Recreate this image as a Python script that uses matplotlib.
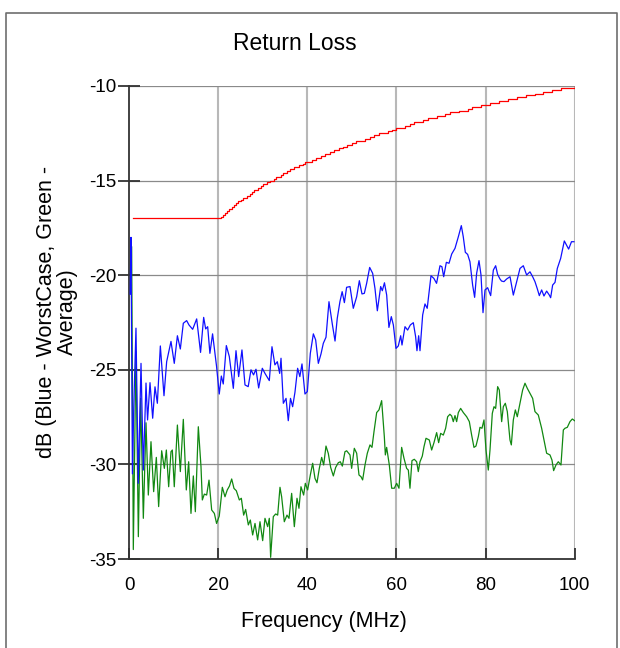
import numpy as np
import matplotlib.pyplot as plt
from matplotlib.lines import Line2D

plt.rcParams['font.family'] = ['Liberation Sans', 'DejaVu Sans']

# worst case return loss (blue)
blue_f = [0.2, 0.38, 0.7, 1.0, 1.5, 2.0, 2.63, 3.15, 3.75, 4.1, 4.65, 5.25, 5.77, 6.3,
          6.97, 7.79, 8.39, 9.36, 10.1, 10.8, 11.46, 12.13, 12.88, 13.4, 14.23, 15.13,
          16.0, 16.7, 17.15, 17.6, 18.1, 18.7, 19.6, 20.2, 20.67, 21.1, 21.79, 22.46,
          23.36, 23.96, 24.56, 25.3, 25.98, 26.7, 27.33, 27.9, 28.45, 29.05, 29.87,
          30.47, 31.44, 32.04, 32.7, 33.24, 33.77, 34.07, 34.59, 35.2, 35.7, 36.2,
          36.68, 37.2, 37.8, 38.3, 38.78, 39.45, 39.98, 40.65, 41.33, 41.85, 42.45,
          43.05, 43.57, 44.17, 44.84, 45.6, 46.2, 46.7, 47.3, 47.8, 48.3, 48.8, 49.56,
          50.3, 51.06, 51.66, 52.25, 52.78, 53.3, 53.98, 54.65, 55.17, 55.7, 56.45,
          56.82, 57.3, 57.8, 58.3, 58.84, 59.3, 59.89, 60.41, 60.94, 61.24, 61.91,
          62.5, 63.11, 63.78, 64.3, 64.6, 64.98, 65.28, 65.88, 66.4, 66.9, 67.75,
          68.4, 69.0, 69.77, 70.2, 70.6, 71.2, 71.8, 72.4, 73.14, 73.89, 74.56, 75.0,
          75.46, 75.98, 76.5, 77.1, 77.55, 78.0, 78.53, 78.98, 79.43, 79.88, 80.47,
          81.15, 81.75, 82.27, 82.72, 83.24, 83.6, 84.14, 84.74, 85.5, 86.24, 86.99,
          87.74, 88.48, 89.23, 89.98, 90.58, 91.1, 91.6, 92.08, 92.6, 93.12, 93.72,
          94.32, 94.62, 95.07, 95.6, 96.12, 96.87, 97.69, 98.2, 98.66, 99.3, 99.85]
blue_db = [-21.0, -18.0, -30.5, -27.0, -22.8, -31.0, -24.66, -30.3, -25.7, -27.65,
           -25.68, -27.56, -25.9, -26.77, -23.74, -26.37, -24.57, -23.5, -24.66, -23.2,
           -23.9, -22.54, -22.4, -22.63, -22.86, -22.31, -24.08, -22.23, -22.84, -22.72,
           -24.13, -23.1, -24.83, -26.28, -25.33, -25.75, -23.72, -24.3, -25.98, -23.99,
           -25.36, -23.95, -25.8, -25.89, -25.0, -25.27, -24.97, -25.96, -24.92, -25.19,
           -25.57, -23.78, -24.74, -24.57, -25.19, -24.39, -26.77, -26.51, -27.69, -26.51,
           -26.95, -26.19, -24.92, -25.36, -24.69, -26.28, -26.15, -24.13, -23.1, -23.42,
           -24.66, -24.16, -23.6, -23.28, -21.4, -22.6, -23.48, -22.28, -21.4, -20.87,
           -21.45, -20.64, -20.6, -21.75, -21.14, -20.29, -20.99, -20.96, -20.43, -19.59,
           -19.9, -20.7, -21.88, -20.6, -20.82, -20.4, -21.05, -22.76, -22.19, -22.63,
           -23.87, -23.74, -23.2, -23.69, -22.72, -22.9, -22.63, -22.51, -23.25, -23.99,
           -23.2, -23.99, -22.1, -21.52, -21.75, -20.03, -20.17, -20.43, -19.5, -19.55,
           -20.08, -19.32, -19.37, -18.88, -18.58, -17.97, -17.38, -17.97, -18.79, -18.9,
           -19.29, -20.52, -21.17, -19.9, -19.23, -19.99, -21.98, -20.78, -20.66, -21.08,
           -19.73, -19.5, -19.96, -20.2, -20.31, -20.34, -20.2, -20.08, -21.05, -20.34,
           -19.64, -19.5, -19.99, -19.82, -20.08, -20.34, -20.7, -21.08, -20.78, -21.1,
           -20.84, -21.05, -21.19, -20.52, -20.38, -19.64, -19.11, -18.19, -18.41, -18.62,
           -18.23, -18.23]

# average return loss (green)
green_f = [0.2, 0.53, 0.9, 1.5, 2.03, 2.55, 3.15, 3.75, 4.27, 4.87, 5.47, 6.07, 6.59,
           7.27, 7.87, 8.32, 8.84, 9.36, 9.66, 10.1, 10.8, 11.46, 12.13, 12.8, 13.33,
           13.85, 14.38, 14.83, 15.5, 16.1, 16.4, 16.85, 17.37, 17.9, 18.5, 19.1, 19.6,
           20.2, 20.89, 21.49, 22.0, 22.5, 22.99, 23.51, 24.03, 24.71, 25.16, 25.68,
           26.13, 26.73, 27.18, 27.7, 28.23, 28.82, 29.35, 29.95, 30.47, 31.07, 31.44,
           31.74, 32.34, 32.87, 33.32, 33.84, 34.21, 34.81, 35.41, 35.86, 36.46, 37.06,
           37.66, 38.1, 38.55, 39.15, 39.53, 40.05, 40.65, 41.18, 41.7, 42.15, 42.67,
           43.2, 43.65, 44.17, 44.69, 45.22, 45.82, 46.34, 46.94, 47.39, 47.84, 48.43,
           48.81, 49.56, 49.93, 50.53, 51.06, 51.58, 52.03, 52.4, 52.93, 53.45, 54.05,
           54.5, 54.95, 55.55, 56.07, 56.67, 57.27, 57.5, 57.79, 58.39, 58.92, 59.52,
           60.04, 60.56, 61.16, 61.69, 62.28, 62.66, 63.03, 63.48, 64.0, 64.53, 64.9,
           65.28, 65.8, 66.18, 66.63, 67.37, 67.9, 68.42, 69.02, 69.47, 69.92, 70.52,
           71.04, 71.49, 72.0, 72.39, 72.76, 73.14, 73.51, 73.89, 74.41, 75.01, 75.76,
           76.36, 76.88, 77.4, 77.85, 78.38, 78.75, 79.2, 79.65, 80.1, 80.62, 81.0,
           81.52, 81.9, 82.27, 82.72, 83.09, 83.62, 83.99, 84.44, 84.89, 85.49, 85.79,
           86.24, 86.69, 87.13, 87.73, 88.33, 88.86, 89.38, 89.98, 90.58, 91.1, 91.85,
           92.6, 93.2, 93.72, 94.47, 94.92, 95.29, 95.82, 96.34, 96.94, 97.47, 97.84,
           98.36, 98.96, 99.49, 100.0]
green_db = [-20.0, -18.49, -34.5, -24.04, -33.82, -26.51, -32.85, -27.8, -31.62, -28.8,
            -31.44, -29.63, -32.23, -29.28, -30.21, -29.24, -31.18, -29.33, -29.24,
            -31.18, -27.92, -30.38, -27.62, -31.35, -29.86, -32.59, -30.61, -32.5, -28.01,
            -30.12, -31.88, -31.57, -31.62, -30.83, -32.41, -32.59, -33.12, -32.73,
            -31.21, -31.71, -31.35, -31.14, -30.77, -31.27, -31.39, -31.88, -31.79,
            -32.68, -32.38, -33.2, -32.94, -33.73, -33.12, -33.99, -33.03, -34.03, -32.85,
            -33.29, -32.85, -34.91, -32.76, -32.62, -32.68, -31.21, -31.71, -33.03,
            -32.68, -32.85, -31.53, -33.29, -31.79, -32.32, -31.18, -31.62, -31.0, -31.35,
            -30.56, -29.94, -30.74, -30.97, -30.21, -29.63, -30.03, -29.03, -29.42,
            -30.16, -30.61, -30.16, -29.91, -29.86, -30.09, -29.33, -29.28, -29.5,
            -30.21, -29.15, -29.41, -30.56, -30.65, -30.82, -30.03, -29.41, -28.97, -29.1,
            -28.27, -27.26, -27.12, -26.63, -28.53, -29.5, -29.1, -30.03, -31.26, -31.26,
            -31.0, -31.26, -29.1, -29.68, -30.21, -30.3, -31.26, -29.8, -29.73, -29.86,
            -30.38, -29.86, -29.56, -29.06, -28.62, -28.71, -29.24, -28.85, -28.32,
            -28.85, -28.36, -28.45, -28.09, -27.48, -27.35, -27.44, -27.74, -27.42,
            -27.74, -27.26, -27.04, -27.26, -27.48, -27.74, -28.45, -29.1, -29.03, -28.53,
            -28.04, -28.09, -27.65, -29.24, -30.3, -29.24, -27.3, -26.95, -27.04, -25.89,
            -26.07, -27.74, -26.95, -26.77, -27.21, -28.71, -28.97, -27.65, -27.12,
            -27.48, -26.77, -26.07, -25.71, -25.98, -26.24, -26.51, -27.21, -27.39,
            -28.09, -28.8, -29.41, -29.5, -29.77, -30.33, -30.03, -29.86, -30.03, -28.18,
            -28.09, -28.04, -27.74, -27.6, -27.69]

# limit line (red), 0.1 dB resolution: half-MHz steps up to 40, then 1 MHz
limit_f = ([0.8] + [20 + 0.5 * i for i in range(40)] + list(range(40, 101)))
limit_db = [-17.0,
            -17.0, -16.9, -16.8, -16.7, -16.6, -16.5, -16.4, -16.3, -16.2, -16.1,
            -16.0, -15.9, -15.9, -15.8, -15.7, -15.6, -15.5, -15.5, -15.4, -15.3,
            -15.2, -15.2, -15.1, -15.0, -15.0, -14.9, -14.8, -14.8, -14.7, -14.6,
            -14.6, -14.5, -14.4, -14.4, -14.3, -14.3, -14.2, -14.2, -14.1, -14.0,
            -14.0, -13.9, -13.8, -13.7, -13.6, -13.5, -13.4, -13.3, -13.2, -13.1,
            -13.0, -12.9, -12.9, -12.8, -12.7, -12.6, -12.5, -12.5, -12.4, -12.3,
            -12.2, -12.2, -12.1, -12.0, -11.9, -11.9, -11.8, -11.7, -11.7, -11.6,
            -11.6, -11.5, -11.4, -11.4, -11.3, -11.3, -11.2, -11.1, -11.1, -11.0,
            -11.0, -10.9, -10.9, -10.8, -10.8, -10.7, -10.7, -10.6, -10.6, -10.5,
            -10.5, -10.4, -10.4, -10.3, -10.3, -10.2, -10.2, -10.1, -10.1, -10.1,
            -10.0]

x_ticks = [0, 20, 40, 60, 80, 100]
y_ticks = [-35, -30, -25, -20, -15, -10]

fig = plt.figure(figsize=(6.2, 6.48), dpi=100)
ax = fig.add_axes([129.3 / 620, 1 - 559 / 648, 445.3 / 620, 473 / 648])

for xv in x_ticks[1:]:
    ax.axvline(xv, color='#b8b8b8', lw=1.5, zorder=1)
for yv in y_ticks[1:]:
    ax.axhline(yv, color='#8a8a8a', lw=0.9, zorder=1)

ax.plot(limit_f, limit_db, color='#ff0000', lw=0.9, drawstyle='steps-post', zorder=3)
ax.plot(blue_f, blue_db, color='#1010ff', lw=0.9, zorder=3)
ax.plot(green_f, green_db, color='#118811', lw=0.9, zorder=2)

ax.set_xlim(0, 100)
ax.set_ylim(-35, -10)
ax.set_xticks(x_ticks)
ax.set_yticks(y_ticks)
ax.set_xticklabels([str(v) for v in x_ticks])
ax.set_yticklabels([str(v) for v in y_ticks])

for side in ['top', 'right']:
    ax.spines[side].set_visible(False)
for side in ['left', 'bottom']:
    ax.spines[side].set_color('#333333')
    ax.spines[side].set_linewidth(1.3)

ax.tick_params(axis='y', direction='inout', length=16, width=1.3, color='#333333',
               labelsize=13.5, pad=1)
ax.tick_params(axis='x', direction='in', length=8, width=1.3, color='#333333',
               labelsize=13.5, pad=13)

fig.text(295 / 620, 1 - 44 / 648, 'Return Loss', ha='center', va='center', fontsize=16.5)
fig.text(324 / 620, 1 - 621 / 648, 'Frequency (MHz)', ha='center', va='center',
         fontsize=15.5)
fig.text(57 / 620, 1 - 312 / 648, 'dB (Blue - WorstCase, Green -\nAverage)',
         ha='center', va='center', rotation=90, fontsize=15.5, linespacing=1.0)

# outer frame
fx = [5.5 / 620, 5.5 / 620, 617 / 620, 617 / 620]
fy = [0, 1 - 12.5 / 648, 1 - 12.5 / 648, 0]
fig.add_artist(Line2D(fx, fy, transform=fig.transFigure, color='#6e6e6e', lw=1.2))

fig.savefig('out.png', dpi=100)
